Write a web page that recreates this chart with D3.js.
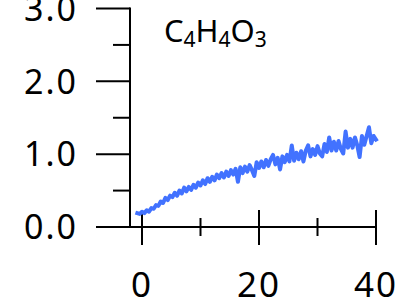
<!DOCTYPE html>
<html>
<head>
<meta charset="utf-8">
<script src="https://cdn.jsdelivr.net/npm/d3@7"></script>
<style>
  html, body { margin: 0; padding: 0; background: #fff; }
  svg { display: block; }
  text { font-family: "Noto Sans", sans-serif; fill: #000; }
</style>
</head>
<body>
<div id="chart"></div>
<script>
// time axis (x) and signal (y)
var times = [-0.8,-0.4,0.0,0.4,0.8,1.2,1.6,2.0,2.4,2.8,3.2,3.6,4.0,4.4,4.8,5.2,5.6,6.0,6.4,6.8,
  7.2,7.6,8.0,8.4,8.8,9.2,9.6,10.0,10.4,10.8,11.2,11.6,12.0,12.4,12.8,13.2,13.6,14.0,14.4,14.8,
  15.2,15.6,16.0,16.4,16.8,17.2,17.6,18.0,18.4,18.8,19.2,19.6,20.0,20.4,20.8,21.2,21.6,22.0,22.4,22.8,
  23.2,23.6,24.0,24.4,24.8,25.2,25.6,26.0,26.4,26.8,27.2,27.6,28.0,28.4,28.8,29.2,29.6,30.0,30.4,30.8,
  31.2,31.6,32.0,32.4,32.8,33.2,33.6,34.0,34.4,34.8,35.2,35.6,36.0,36.4,36.8,37.2,37.6,38.0,38.4,38.8,
  39.2,39.6,40.0];
var signal = [0.19,0.18,0.21,0.19,0.23,0.21,0.26,0.25,0.30,0.29,0.35,0.33,0.40,0.37,0.43,0.41,0.47,0.43,0.50,0.46,
  0.54,0.49,0.55,0.51,0.58,0.54,0.61,0.57,0.64,0.59,0.67,0.62,0.69,0.64,0.72,0.67,0.74,0.68,0.76,0.70,
  0.78,0.72,0.80,0.62,0.82,0.74,0.83,0.76,0.85,0.78,0.70,0.89,0.81,0.90,0.82,0.92,0.84,0.93,0.99,0.86,
  0.95,0.79,0.97,0.89,0.99,0.90,1.12,0.91,1.02,0.93,1.04,0.90,1.05,1.12,0.97,1.07,0.99,1.11,1.01,0.97,
  1.14,1.03,1.23,1.05,1.17,1.05,1.18,1.07,1.01,1.31,1.09,1.21,1.09,1.23,1.12,0.96,1.25,1.13,1.25,1.37,
  1.15,1.25,1.20];

var xTicksMajor = [0, 20, 40];
var xTicksMinor = [10, 30];
var yTicksMajor = [0, 1, 2, 3];
var yTicksMinor = [0.5, 1.5, 2.5];
var title = ["C", "4", "H", "4", "O", "3"];

var width = 401, height = 304;
var x = d3.scaleLinear().domain([0, 40]).range([142, 376]);
var y = d3.scaleLinear().domain([0, 3]).range([227, 8.5]);
var yAxisX = 130, majorY = 34, minorY = 17, majorX = 17, minorX = 9;
var blue = "#4272ff";

var svg = d3.select("#chart").append("svg")
    .attr("width", width).attr("height", height);

// y axis
var yAxis = svg.append("g").attr("stroke", "#000").attr("stroke-width", 2);
yAxis.append("line")
    .attr("x1", yAxisX).attr("x2", yAxisX)
    .attr("y1", y(3) - 1).attr("y2", y(0));
yAxis.selectAll(".ymaj").data(yTicksMajor).join("line")
    .attr("x1", yAxisX - majorY).attr("x2", yAxisX)
    .attr("y1", d => y(d)).attr("y2", d => y(d));
yAxis.selectAll(".ymin").data(yTicksMinor).join("line")
    .attr("class", "ymin")
    .attr("x1", yAxisX - minorY).attr("x2", yAxisX)
    .attr("y1", d => y(d)).attr("y2", d => y(d));

svg.append("g").selectAll("text").data(yTicksMajor).join("text")
    .attr("x", 78).attr("y", d => y(d))
    .attr("dy", "0.36em")
    .attr("text-anchor", "end")
    .attr("font-size", "34px")
    .attr("letter-spacing", "2px")
    .text(d => d3.format(".1f")(d));

// x axis
var xAxis = svg.append("g").attr("stroke", "#000").attr("stroke-width", 2);
xAxis.append("line")
    .attr("x1", yAxisX - majorY).attr("x2", x(40) + 1)
    .attr("y1", y(0)).attr("y2", y(0));
xAxis.selectAll(".xmaj").data(xTicksMajor).join("line")
    .attr("class", "xmaj")
    .attr("x1", d => x(d)).attr("x2", d => x(d))
    .attr("y1", y(0) - majorX).attr("y2", y(0) + majorX + 1);
xAxis.selectAll(".xmin").data(xTicksMinor).join("line")
    .attr("class", "xmin")
    .attr("x1", d => x(d)).attr("x2", d => x(d))
    .attr("y1", y(0) - minorX).attr("y2", y(0) + minorX);

svg.append("g").selectAll("text").data(xTicksMajor).join("text")
    .attr("x", d => x(d)).attr("y", 297)
    .attr("text-anchor", "middle")
    .attr("font-size", "35px")
    .attr("letter-spacing", "2px")
    .text(d => d);

// signal trace
var line = d3.line()
    .x((d, i) => x(times[i]))
    .y(d => y(d));
svg.append("path")
    .datum(signal)
    .attr("fill", "none")
    .attr("stroke", blue)
    .attr("stroke-width", 4)
    .attr("stroke-linejoin", "round")
    .attr("stroke-linecap", "square")
    .attr("d", line);

// formula label
var t = svg.append("text").attr("x", 164).attr("y", 42).attr("font-size", "31px");
title.forEach(function(s, i) {
  var sub = i % 2 == 1;
  t.append("tspan")
      .attr("font-size", sub ? "21px" : "31px")
      .attr("dy", sub ? 5 : (i > 0 ? -5 : 0))
      .text(s);
});
</script>
</body>
</html>
